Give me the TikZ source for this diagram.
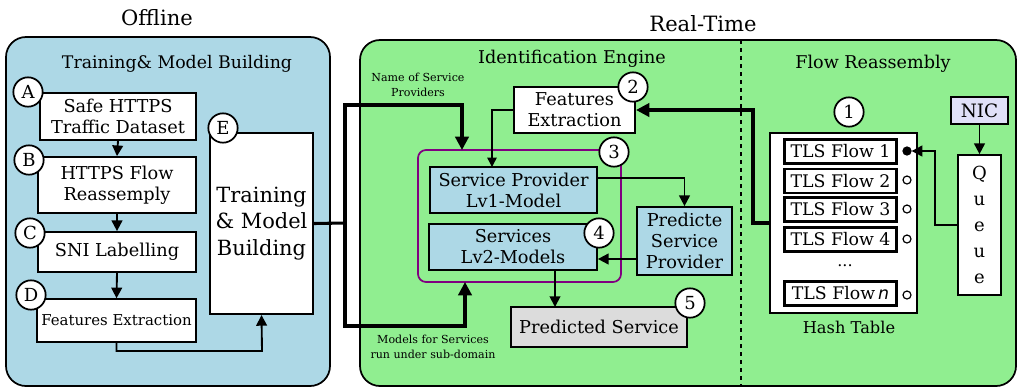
\documentclass[tikz,border=0pt]{standalone}
\usepackage{fontspec}
\setmainfont{DejaVuSerif}[Extension=.ttf,BoldFont=DejaVuSerif-Bold,ItalicFont=DejaVuSerif-Italic,BoldItalicFont=DejaVuSerif-BoldItalic]
\setsansfont{DejaVuSans}[Extension=.ttf,BoldFont=DejaVuSans-Bold,ItalicFont=DejaVuSans-Oblique,BoldItalicFont=DejaVuSans-BoldOblique]
\usetikzlibrary{arrows.meta,positioning,calc}
\definecolor{panelblue}{HTML}{ADD8E6}
\definecolor{panelgreen}{HTML}{90EE90}
\definecolor{boxgray}{HTML}{DCDCDC}
\definecolor{niccol}{HTML}{E0E0F8}
\definecolor{purp}{HTML}{800080}
\begin{document}
\begin{tikzpicture}[x=0.75pt,y=-0.75pt,
  box/.style={draw,line width=1.3pt,fill=white,align=center,inner sep=0pt,font=\fontsize{13.3}{15.8}\selectfont},
  bluebox/.style={box,fill=panelblue},
  badge/.style={circle,draw,line width=1.3pt,fill=white,minimum size=22pt,inner sep=0pt,font=\fontsize{13.5}{13.5}\selectfont},
  tls/.style={draw,line width=2.1pt,fill=white,minimum width=84pt,minimum height=18pt,inner sep=0pt,font=\fontsize{13}{14}\selectfont},
  port/.style={circle,draw,line width=0.9pt,fill=white,minimum size=6pt,inner sep=0pt},
  conn/.style={line width=1.4pt,-{Triangle[length=8pt,width=8pt]}},
  bigconn/.style={line width=2.3pt,-{Triangle[length=10pt,width=10pt]}},
  small/.style={font=\fontsize{8.3}{11}\selectfont,align=center}
]
\useasboundingbox (0,0) rectangle (1018,387);
% panels
\draw[line width=1.3pt,fill=panelblue,rounded corners=15pt] (6,37) rectangle (330,386);
\draw[line width=1.3pt,fill=panelgreen,rounded corners=15pt] (360,40) rectangle (1016,386);
\draw[dashed,line width=0.9pt] (741,40) -- (741,386);
% titles
\node[font=\fontsize{15.8}{18}\selectfont] (toff) at (157,18) {Offline};
\node[font=\fontsize{15.8}{18}\selectfont] (trt) at (703,24) {Real-Time};
\node[font=\fontsize{13}{15}\selectfont] (ttmb) at (177,64) {Training\& Model Building};
\node[font=\fontsize{13.2}{15}\selectfont] (tie) at (572,59) {Identification Engine};
\node[font=\fontsize{13.2}{15}\selectfont] (tfr) at (873,64) {Flow Reassembly};
% left boxes
\node[box,minimum width=117pt,minimum height=35pt] (A) at (118,116.5) {Safe HTTPS\\Traffic Dataset};
\node[box,minimum width=118.5pt,minimum height=42pt] (B) at (117,185) {HTTPS Flow\\Reassemply};
\node[box,minimum width=118.5pt,minimum height=30pt] (C) at (117,252) {SNI Labelling};
\node[box,minimum width=119pt,minimum height=32pt,font=\fontsize{11.2}{12}\selectfont] (D) at (116.5,320.5) {Features Extraction};
\node[box,minimum width=77pt,minimum height=136pt,font=\fontsize{15.7}{20}\selectfont] (E) at (261.5,223.5) {Training\\\& Model\\Building};
\node[badge] (bA) at (28,92) {A};
\node[badge] (bB) at (29,160) {B};
\node[badge] (bC) at (30,233) {C};
\node[badge] (bD) at (31,295) {D};
\node[badge] (bE) at (223,128) {E};
\draw[conn] (A.south) -- (B.north);
\draw[conn] (B.south) -- (C.north);
\draw[conn] (C.south) -- (D.north);
\draw[conn] (D.south) |- (262,351) -- (E.south);
% identification engine
\node[box,minimum width=91pt,minimum height=34.5pt] (FE) at (574.5,110) {Features\\Extraction};
\node[badge] (b2) at (633,87) {2};
\draw[purp,line width=1.3pt,rounded corners=6pt] (418,150) rectangle (621,282);
\coordinate (PT) at (462,150);
\coordinate (PB) at (465,282);
\node[badge] (b3) at (614,152) {3};
\node[bluebox,minimum width=125pt,minimum height=34.5pt] (L1) at (513.5,190) {Service Provider\\Lv1-Model};
\node[bluebox,minimum width=126pt,minimum height=34.5pt] (L2) at (513,247) {Services\\Lv2-Models};
\node[badge] (b4) at (599,233) {4};
\node[bluebox,minimum width=71pt,minimum height=51pt] (PSP) at (684.5,241) {Predicte\\Service\\Provider};
\node[box,fill=boxgray,minimum width=132pt,minimum height=30pt] (PS) at (599,327) {Predicted Service};
\node[badge] (b5) at (690,303) {5};
\node[small] (lname) at (418,85) {Name of Service\\Providers};
\node[small] (lmod) at (433,347) {Models for Services\\run under sub-domain};
\draw[line width=1.1pt,-{Triangle[length=7pt,width=7pt]}] (FE.west) -| (492,167);
\draw[conn] (L1.east |- 0,178) -| (PSP.north);
\draw[conn] (PSP.west |- 0,259) -- (L2.east |- 0,259);
\draw[conn] (555,270) -- (555,307);
% connections from E
\coordinate (J) at (345,223);
\draw[line width=2.3pt] (E.east) -- (J);
\draw[bigconn] (J) -- (345,105) -| (PT);
\draw[bigconn] (J) -- (345,326) -| (PB);
% flow reassembly
\node[badge] (b1) at (849,112) {1};
\node[draw,line width=1.3pt,fill=white,minimum width=110pt,minimum height=135pt,inner sep=0pt] (HT) at (843.5,223) {};
\node[font=\fontsize{12.2}{14}\selectfont] (lht) at (849,327) {Hash Table};
\node[tls] (t1) at (840.5,151.5) {TLS Flow 1};
\node[tls] (t2) at (840.5,181) {TLS Flow 2};
\node[tls] (t3) at (840.5,209.5) {TLS Flow 3};
\node[tls] (t4) at (840.5,239.5) {TLS Flow 4};
\node[font=\fontsize{12}{13}\selectfont] (dots) at (845,266) {...};
\node[tls] (tn) at (840.5,293.5) {TLS Flow\,\textit{\sffamily n}};
\node[port,fill=black] (p1) at (907,151) {};
\node[port] (p2) at (907,180) {};
\node[port] (p3) at (907,209) {};
\node[port] (p4) at (907,239) {};
\node[port] (pn) at (907,295) {};
\node[draw,line width=1.3pt,fill=niccol,minimum width=42.5pt,minimum height=20pt,inner sep=0pt,font=\fontsize{13.8}{15}\selectfont] (NIC) at (979.5,110.5) {NIC};
\node[draw,line width=1.3pt,fill=white,minimum width=32pt,minimum height=105pt,inner sep=0pt,align=center,font=\fontsize{13.5}{19.5}\selectfont] (Q) at (979.5,225) {Q\\u\\e\\u\\e};
\draw[conn] (NIC.south) -- (Q.north);
\draw[conn] (Q.west) -- (935,225) |- (p1.east);
\draw[bigconn] (HT.west) -- (753,223) |- (FE.east);
\end{tikzpicture}
\end{document}
